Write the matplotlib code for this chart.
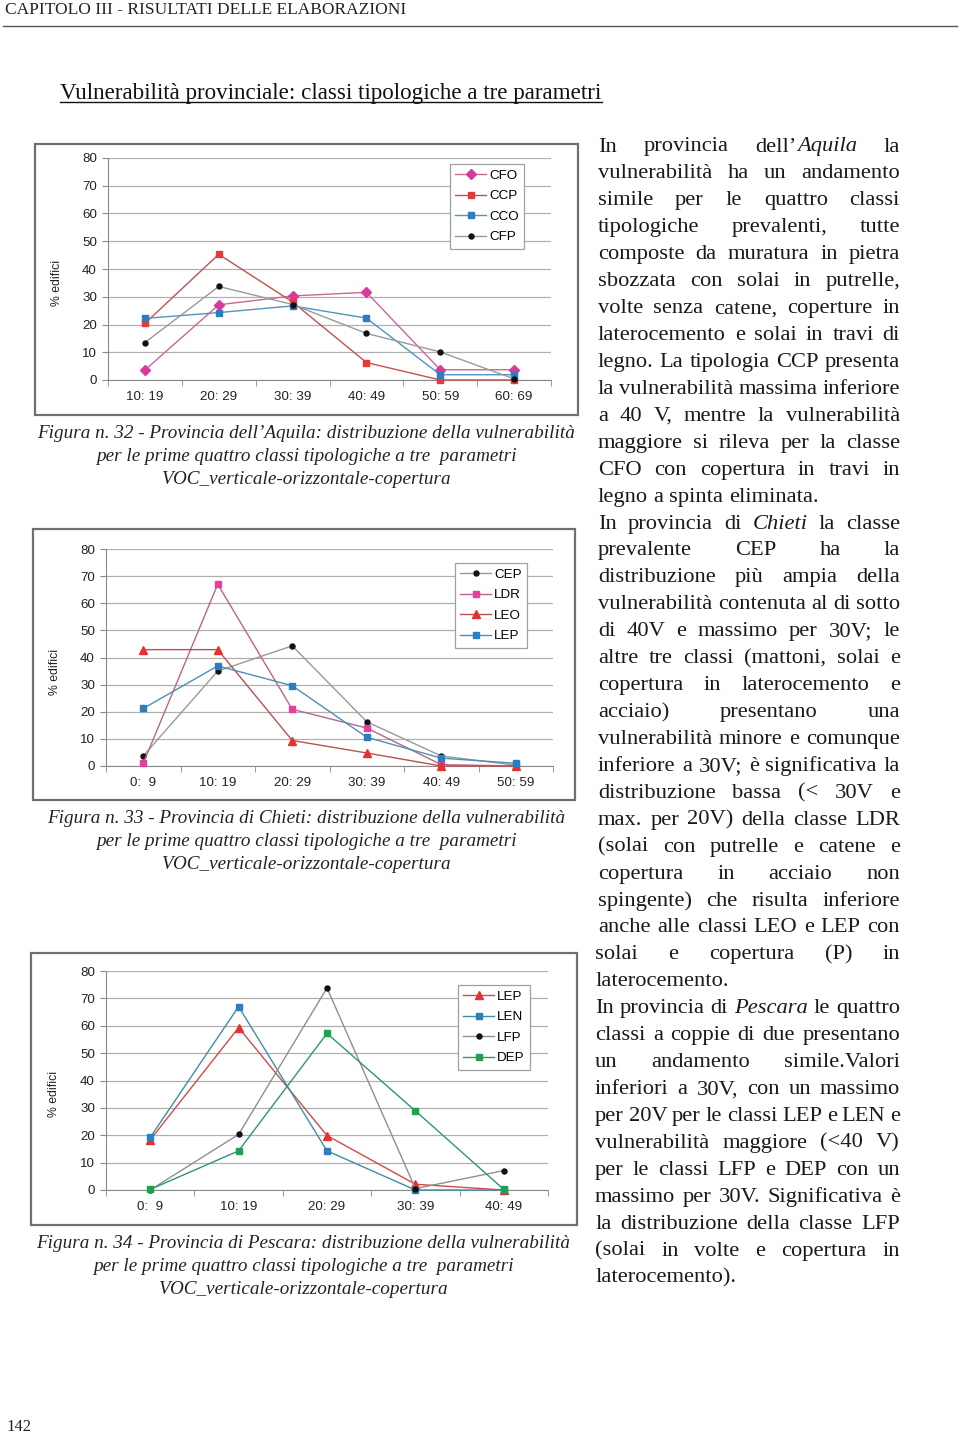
import numpy as np
import matplotlib
matplotlib.use("Agg")
import matplotlib.pyplot as plt
from matplotlib.transforms import Affine2D
from matplotlib.patches import Rectangle
from matplotlib.lines import Line2D

# --- dati ---
aq_cats = ["10: 19", "20: 29", "30: 39", "40: 49", "50: 59", "60: 69"]
aq_names = ["CFO", "CCP", "CCO", "CFP"]
aq_cfo = [3.6, 27.1, 30.3, 31.6, 3.7, 3.7]
aq_ccp = [20.4, 45.3, 28.1, 6.3, 0.0, 0.0]
aq_cco = [22.2, 24.3, 26.7, 22.3, 1.9, 1.9]
aq_cfp = [13.5, 33.7, 27.2, 16.8, 10.1, 0.4]

ch_cats = ["0:  9", "10: 19", "20: 29", "30: 39", "40: 49", "50: 59"]
ch_names = ["CEP", "LDR", "LEO", "LEP"]
ch_cep = [3.7, 35.0, 44.3, 16.3, 3.7, 0.3]
ch_ldr = [1.0, 67.0, 20.9, 14.0, 0.5, 0.0]
ch_leo = [42.9, 42.9, 9.4, 4.8, 0.0, 0.0]
ch_lep = [21.2, 36.9, 29.6, 10.6, 2.9, 1.0]

pe_cats = ["0:  9", "10: 19", "20: 29", "30: 39", "40: 49"]
pe_names = ["LEP", "LEN", "LFP", "DEP"]
pe_lep = [18.3, 59.3, 19.9, 2.1, 0.0]
pe_len = [19.2, 67.0, 14.3, 0.0, 0.0]
pe_lfp = [0.0, 20.3, 73.8, 0.5, 7.1]
pe_dep = [0.2, 14.3, 57.2, 28.9, 0.2]

header = "CAPITOLO III - RISULTATI DELLE ELABORAZIONI"
title = "Vulnerabilità provinciale: classi tipologiche a tre parametri"
cap_32 = ["Figura n. 32 - Provincia dell’Aquila: distribuzione della vulnerabilità",
          "per le prime quattro classi tipologiche a tre  parametri",
          "VOC_verticale-orizzontale-copertura"]
cap_33 = ["Figura n. 33 - Provincia di Chieti: distribuzione della vulnerabilità",
          "per le prime quattro classi tipologiche a tre  parametri",
          "VOC_verticale-orizzontale-copertura"]
cap_34 = ["Figura n. 34 - Provincia di Pescara: distribuzione della vulnerabilità",
          "per le prime quattro classi tipologiche a tre  parametri",
          "VOC_verticale-orizzontale-copertura"]

# righe del testo a destra (*...* = corsivo); le righe finali di paragrafo non sono giustificate
body = [
    "In provincia dell’*Aquila* la",
    "vulnerabilità ha un andamento",
    "simile per le quattro classi",
    "tipologiche prevalenti, tutte",
    "composte da muratura in pietra",
    "sbozzata con solai in putrelle,",
    "volte senza catene, coperture in",
    "laterocemento e solai in travi di",
    "legno. La tipologia CCP presenta",
    "la vulnerabilità massima inferiore",
    "a 40 V, mentre la vulnerabilità",
    "maggiore si rileva per la classe",
    "CFO con copertura in travi in",
    "legno a spinta eliminata.",
    "In provincia di *Chieti* la classe",
    "prevalente CEP ha la",
    "distribuzione più ampia della",
    "vulnerabilità contenuta al di sotto",
    "di 40V e massimo per 30V; le",
    "altre tre classi (mattoni, solai e",
    "copertura in laterocemento e",
    "acciaio) presentano una",
    "vulnerabilità minore e comunque",
    "inferiore a 30V; è significativa la",
    "distribuzione bassa (< 30V e",
    "max. per 20V) della classe LDR",
    "(solai con putrelle e catene e",
    "copertura in acciaio non",
    "spingente) che risulta inferiore",
    "anche alle classi LEO e LEP con",
    "solai e copertura (P) in",
    "laterocemento.",
    "In provincia di *Pescara* le quattro",
    "classi a coppie di due presentano",
    "un andamento simile.Valori",
    "inferiori a 30V, con un massimo",
    "per 20V per le classi LEP e LEN e",
    "vulnerabilità maggiore (<40 V)",
    "per le classi LFP e DEP con un",
    "massimo per 30V. Significativa è",
    "la distribuzione della classe LFP",
    "(solai in volte e copertura in",
    "laterocemento).",
]
para_end = [13, 31, 42]

W, H = 960, 1433
fig = plt.figure(figsize=(W / 100, H / 100), dpi=100)
# coordinate in pixel, origine in alto a sinistra
px = Affine2D().scale(1 / W, -1 / H).translate(0, 1) + fig.transFigure
renderer = fig.canvas.get_renderer()

SERIF = "Liberation Serif"
SANS = "Liberation Sans"


def text_width(s, size, **kw):
    t = fig.text(0, 0, s, fontsize=size, **kw)
    w = t.get_window_extent(renderer).width
    t.remove()
    return w


def fit(s, width, **kw):
    return 10 * width / text_width(s, 10, **kw)


def to_fig(x0, y0, x1, y1):
    return [x0 / W, 1 - y1 / H, (x1 - x0) / W, (y1 - y0) / H]


def chart(plot_px, frame_px, cats, names, values, styles, legend_px, ylab_px):
    fig.add_artist(Rectangle((frame_px[0], frame_px[1]), frame_px[2] - frame_px[0],
                             frame_px[3] - frame_px[1], transform=px, fill=False,
                             ec="#6f6f6f", lw=1.6))
    ax = fig.add_axes(to_fig(*plot_px))
    x = np.arange(len(cats))
    for name, vals, (mk, mc, lc, ms) in zip(names, values, styles):
        ax.plot(x, vals, color=lc, lw=1.0, marker=mk, ms=ms, mfc=mc, mec=mc,
                label=name, clip_on=False, zorder=3)
    ax.set_xlim(-0.5, len(cats) - 0.5)
    ax.set_ylim(0, 80)
    ax.set_yticks(range(0, 81, 10))
    ax.set_xticks(x)
    ax.set_xticklabels(cats)
    ax.set_xticks(np.arange(-0.5, len(cats)), minor=True)
    ax.tick_params(axis="x", which="major", length=0, pad=8, labelsize=9.6, labelcolor="#222")
    ax.tick_params(axis="x", which="minor", length=4, direction="out", color="#8a8a8a")
    ax.tick_params(axis="y", length=4, color="#8a8a8a", pad=4, labelsize=9.6, labelcolor="#222")
    for lab in ax.get_xticklabels() + ax.get_yticklabels():
        lab.set_family(SANS)
    ax.grid(axis="y", color="#b0b0b0", lw=0.9)
    ax.set_axisbelow(True)
    ax.spines["top"].set_visible(False)
    ax.spines["right"].set_visible(False)
    ax.spines["left"].set_color("#8a8a8a")
    ax.spines["bottom"].set_color("#8a8a8a")
    ax.set_facecolor("none")
    leg = ax.legend(loc="upper left", bbox_to_anchor=(legend_px[0] / W, 1 - legend_px[1] / H),
                    bbox_transform=fig.transFigure, frameon=True, fancybox=False,
                    edgecolor="#a0a0a0", framealpha=1, borderaxespad=0,
                    prop={"family": SANS, "size": 9.6}, handlelength=2.3,
                    handletextpad=0.25, labelspacing=0.62, borderpad=0.4)
    leg.get_frame().set_linewidth(0.9)
    fig.text(ylab_px[0], ylab_px[1], "% edifici", transform=px, rotation=90,
             ha="center", va="center", family=SANS, fontsize=8.8, color="#222")


# intestazione
size_h = fit(header, 398, family=SERIF)
fig.text(5, 14, header, transform=px, va="baseline", family=SERIF, fontsize=size_h, color="#222")
fig.add_artist(Line2D([3, 957], [26, 26], transform=px, color="#555", lw=1.0))
size_t = fit(title, 542, family=SERIF)
fig.text(60, 99, title, transform=px, va="baseline", family=SERIF, fontsize=size_t, color="#111")
fig.add_artist(Line2D([60, 602], [102.5, 102.5], transform=px, color="#111", lw=1.0))
fig.text(6, 1431, "142", transform=px, va="baseline", family=SERIF, fontsize=12, color="#222")

# grafici
chart((108, 158, 551, 380), (35, 144, 578, 415), aq_cats, aq_names,
      [aq_cfo, aq_ccp, aq_cco, aq_cfp],
      [("D", "#d9399a", "#c8679c", 4.6), ("s", "#e8383a", "#c0524f", 4.6),
       ("s", "#2b7ec1", "#5096ba", 4.6), ("o", "#111111", "#9a9a9a", 3.6)],
      (450, 164), (57, 283))
chart((106, 549, 553, 766), (33, 529, 575, 800), ch_cats, ch_names,
      [ch_cep, ch_ldr, ch_leo, ch_lep],
      [("o", "#111111", "#9a9a9a", 3.6), ("s", "#e2409a", "#b8658c", 4.6),
       ("^", "#e43232", "#b8524f", 5.4), ("s", "#2b7ec1", "#4f8fb0", 4.6)],
      (455, 563), (55, 672))
chart((106, 971, 548, 1190), (31, 953, 577, 1225), pe_cats, pe_names,
      [pe_lep, pe_len, pe_lfp, pe_dep],
      [("^", "#e43232", "#d04a48", 5.4), ("s", "#2b7ec1", "#3f8ea8", 4.6),
       ("o", "#111111", "#8f8f8f", 3.6), ("s", "#1fa24f", "#2f9382", 4.6)],
      (458, 985), (54, 1094))

# didascalie
size_c = fit(cap_32[0], 537, family=SERIF, style="italic")
for lines, xc, y0 in [(cap_32, 306, 438), (cap_33, 306, 823), (cap_34, 303, 1248)]:
    for k, s in enumerate(lines):
        fig.text(xc, y0 + 23 * k, s, transform=px, ha="center", va="baseline",
                 family=SERIF, style="italic", fontsize=size_c, color="#222")

# testo giustificato
size_b = 1.02 * fit("legno a spinta eliminata.", 216, family=SERIF)


def segments(word):
    return [(p, k % 2 == 1) for k, p in enumerate(word.split("*")) if p]


space = text_width("a a", size_b, family=SERIF) - text_width("aa", size_b, family=SERIF)
for i, line in enumerate(body):
    x0 = 598 if i <= 29 else 595
    x1 = 900
    y = 151.5 + 26.93 * i
    words = [segments(w) for w in line.split()]
    widths = []
    for segs in words:
        widths.append(sum(text_width(s, size_b, family=SERIF,
                                     style="italic" if it else "normal") for s, it in segs))
    if i in para_end or len(words) == 1:
        gap = space
    else:
        gap = (x1 - x0 - sum(widths)) / (len(words) - 1)
    x = x0
    for segs, w in zip(words, widths):
        xs = x
        for s, it in segs:
            fig.text(xs, y, s, transform=px, va="baseline", family=SERIF,
                     style="italic" if it else "normal", fontsize=size_b, color="#1a1a1a")
            xs += text_width(s, size_b, family=SERIF, style="italic" if it else "normal")
        x += w + gap

fig.savefig("out.png", dpi=100)
